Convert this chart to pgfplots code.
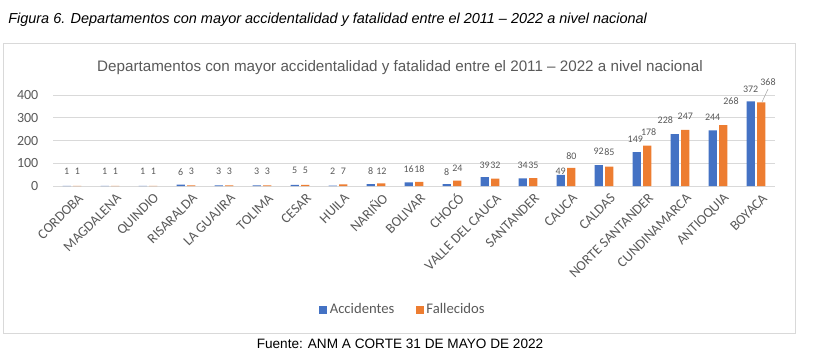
\documentclass[border=0pt]{standalone}
\usepackage{fontspec}
\setmainfont{Liberation Sans}
\newfontfamily\carlito{Carlito}
\usepackage{pgfplots}
\usepackage{pgfplotstable}
\pgfplotsset{compat=1.18}
\definecolor{cblue}{HTML}{4472C4}
\definecolor{corange}{HTML}{ED7D31}
\definecolor{cgrid}{HTML}{D9D9D9}
\definecolor{ctext}{HTML}{595959}
\pgfplotstableread{
x acc fal la lf dxa dxf
0 1 1 63 63 -4 4
1 1 1 63 63 -4 4
2 1 1 63 63 -4 4
3 6 3 63 63 -4 4
4 3 3 63 63 -4 4
5 3 3 63 63 -4 4
6 5 5 67 67 -4 4
7 2 7 63 63 -4 4
8 8 12 67 67 -4 4
9 16 18 76 76 -4 4
10 8 24 63 78 -4 4
11 39 32 92 92 -4 4
12 34 35 92 92 -4 4
13 49 80 67 133 -4 4
14 92 85 151 151 -4 4
15 149 178 207 235 -5 5
16 228 247 291 305 -11 4
17 244 268 301 374 -4 9.75
18 372 368 426 457 -4 9
}\data
\begin{document}
\begin{tikzpicture}
\path[use as bounding box] (0,0) rectangle (612pt,-268.5pt);
\draw[cgrid, line width=0.75pt] (2.25pt,-32.25pt) rectangle (596.25pt,-249.75pt);
\node[anchor=base west, inner sep=0pt, font=\itshape\fontsize{10.85}{12}\selectfont] at (6pt,-17.25pt) {Figura 6. Departamentos con mayor accidentalidad y fatalidad entre el 2011 – 2022 a nivel nacional};
\node[anchor=base, inner sep=0pt, font=\fontsize{11.4}{13}\selectfont, text=ctext] at (300pt,-53.25pt) {Departamentos con mayor accidentalidad y fatalidad entre el 2011 – 2022 a nivel nacional};
\node[anchor=base, inner sep=0pt, font=\fontsize{10.2}{12}\selectfont] at (300pt,-261pt) {Fuente: ANM A CORTE 31 DE MAYO DE 2022};
\begin{axis}[
  at={(39.75pt,-139.5pt)}, anchor=south west,
  scale only axis, width=541.5pt, height=68.25pt,
  xmin=-0.5, xmax=18.5, ymin=0, ymax=400,
  ytick={0,100,200,300,400},
  xtick={0,...,18},
  xticklabels={CORDOBA, MAGDALENA, QUINDIO, RISARALDA, LA GUAJIRA, TOLIMA, CESAR, HUILA, NARIÑO, BOLIVAR, CHOCÓ, VALLE DEL CAUCA, SANTANDER, CAUCA, CALDAS, NORTE SANTANDER, CUNDINAMARCA, ANTIOQUIA, BOYACA},
  /pgf/number format/assume math mode=true,
  ticklabel style={font=\carlito\fontsize{10.5}{12}\selectfont, text=ctext},
  yticklabel style={xshift=-7.5pt},
  xticklabel style={rotate=45, anchor=east, yshift=-10pt, xshift=0.5pt, inner sep=1pt},
  ymajorgrids, grid style={cgrid, line width=0.75pt},
  axis line style={draw=none}, major tick style={draw=none},
  clip=false,
  legend style={at={(0.485,-1.36)}, anchor=center, draw=none, fill=none,
    legend columns=2, font=\carlito\fontsize{11}{13}\selectfont, text=ctext,
    /tikz/every even column/.append style={column sep=14pt}},
  legend image code/.code={\fill[#1] (0pt,-3pt) rectangle (6pt,3pt);},
]
\addplot[ybar, bar width=6.2pt, bar shift=-4pt, fill=cblue, draw=none] table[x=x, y=acc] {\data};
\addlegendentry{Accidentes}
\addplot[ybar, bar width=6.2pt, bar shift=4pt, fill=corange, draw=none] table[x=x, y=fal] {\data};
\addlegendentry{Fallecidos}
\addplot[forget plot, draw=none, mark=none, nodes near coords, point meta=explicit,
  visualization depends on={\thisrow{dxa} \as \dxa},
  every node near coord/.append style={anchor=center, xshift=\dxa pt, inner sep=0pt, font=\carlito\fontsize{7.5}{9}\selectfont, text=ctext}]
  table[x=x, y=la, meta=acc] {\data};
\addplot[forget plot, draw=none, mark=none, nodes near coords, point meta=explicit,
  visualization depends on={\thisrow{dxf} \as \dxf},
  every node near coord/.append style={anchor=center, xshift=\dxf pt, inner sep=0pt, font=\carlito\fontsize{7.5}{9}\selectfont, text=ctext}]
  table[x=x, y=lf, meta=fal] {\data};
\draw[gray!70] ([xshift=9pt]axis cs:18,426) -- ([xshift=4.5pt]axis cs:18,369);
\end{axis}
\end{tikzpicture}
\end{document}
